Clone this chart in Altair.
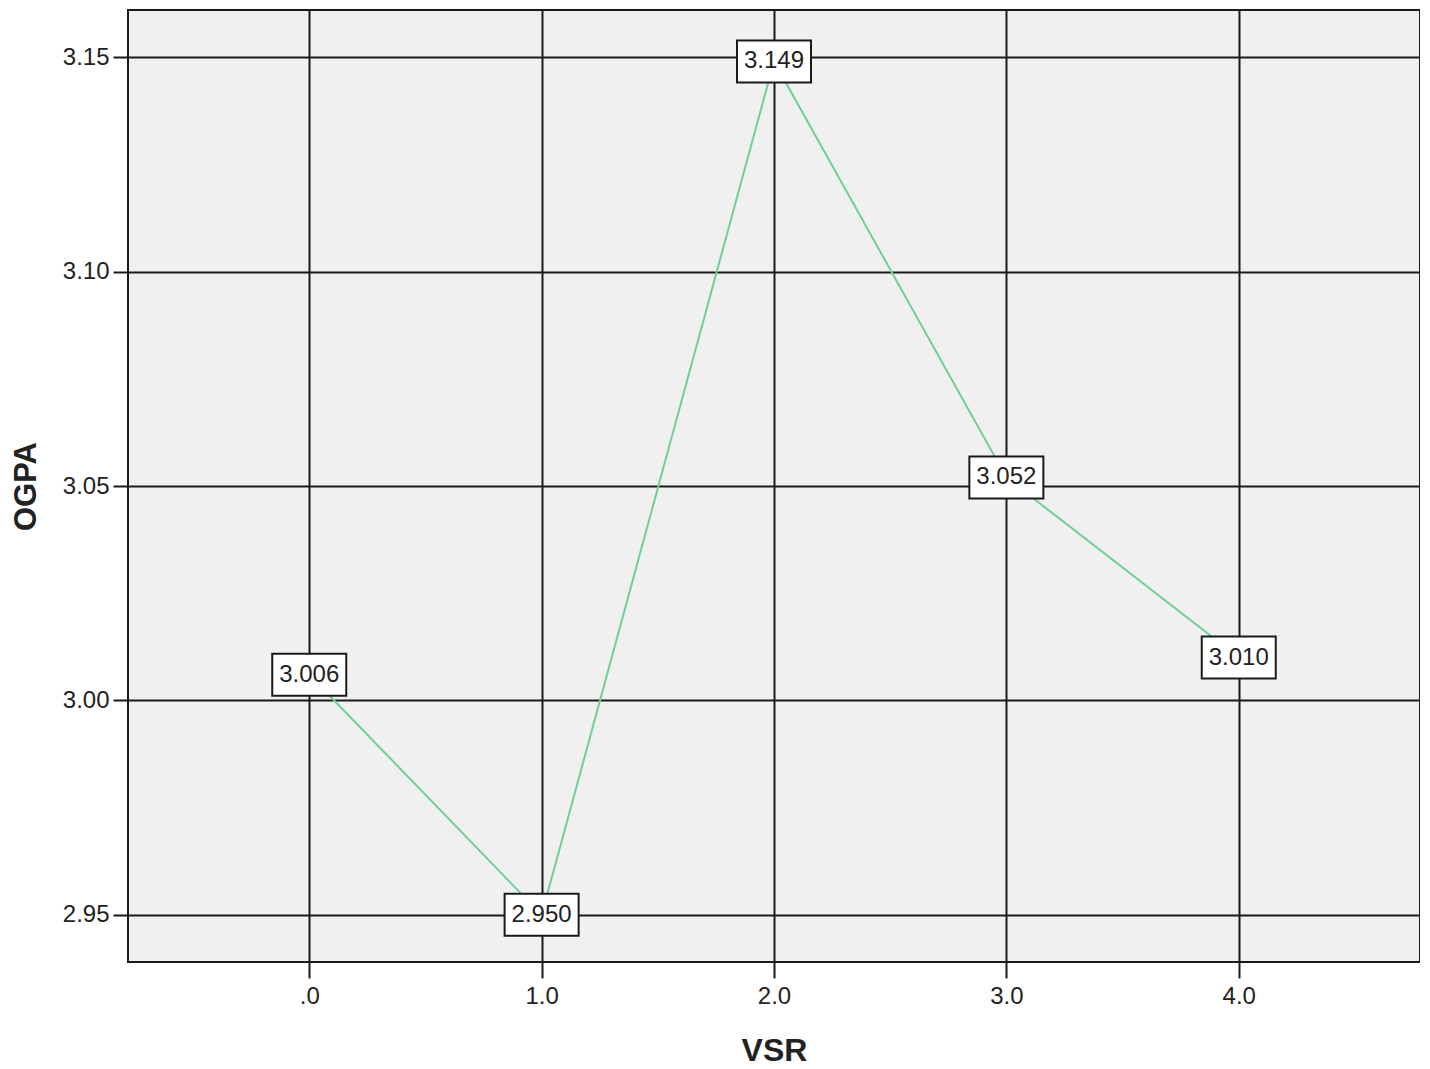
import altair as alt
import pandas as pd

vsr = [0.0, 1.0, 2.0, 3.0, 4.0]
ogpa = [3.006, 2.950, 3.149, 3.052, 3.010]
y_ticks = [2.95, 3.00, 3.05, 3.10, 3.15]
x_ticks = [0, 1, 2, 3, 4]

df = pd.DataFrame({"VSR": vsr, "OGPA": ogpa})

FONT = "Liberation Sans"

xscale = alt.Scale(domain=[-0.78, 4.78], nice=False, zero=False)
yscale = alt.Scale(domain=[2.939, 3.161], nice=False, zero=False)

xaxis = alt.Axis(
    values=x_ticks,
    labelExpr="datum.value == 0 ? '.0' : format(datum.value, '.1f')",
    grid=True, gridColor="#1a1a1a", gridWidth=2,
    tickColor="#1a1a1a", tickWidth=2, tickSize=16,
    domain=False,
    labelFont=FONT, labelFontSize=24, labelColor="#222", labelPadding=6,
    title="VSR", titleFont=FONT, titleFontSize=32, titleFontWeight="bold",
    titleColor="#222", titleY=88, titleBaseline="middle",
)
yaxis = alt.Axis(
    values=y_ticks,
    format=".2f",
    grid=True, gridColor="#1a1a1a", gridWidth=2,
    tickColor="#1a1a1a", tickWidth=2, tickSize=15,
    domain=False,
    labelFont=FONT, labelFontSize=24, labelColor="#222", labelPadding=4,
    title="OGPA", titleFont=FONT, titleFontSize=31, titleFontWeight="bold",
    titleColor="#222", titleX=-102, titleBaseline="middle",
)

base = alt.Chart(df)

line = base.mark_line(color="#6FCF97", strokeWidth=2).encode(
    x=alt.X("VSR:Q", scale=xscale, axis=xaxis),
    y=alt.Y("OGPA:Q", scale=yscale, axis=yaxis),
)

boxes = base.mark_rect(
    fill="white", stroke="#1a1a1a", strokeWidth=2,
    xOffset=-37, x2Offset=37, yOffset=-21, y2Offset=21,
).encode(
    x=alt.X("VSR:Q", scale=xscale),
    x2="VSR:Q",
    y=alt.Y("OGPA:Q", scale=yscale),
    y2="OGPA:Q",
)

labels = base.mark_text(
    font=FONT, fontSize=24, color="#222", align="center", baseline="middle"
).encode(
    x=alt.X("VSR:Q", scale=xscale),
    y=alt.Y("OGPA:Q", scale=yscale),
    text=alt.Text("OGPA:Q", format=".3f"),
)

chart = (
    alt.layer(line, boxes, labels)
    .properties(
        width=1292, height=952,
        padding={"left": 2, "top": 2, "right": 0, "bottom": 0},
    )
    .configure_view(fill="#f0f0f0", stroke="#1a1a1a", strokeWidth=2)
)

chart.save("out.html", embed_options={"renderer": "svg", "actions": False})
